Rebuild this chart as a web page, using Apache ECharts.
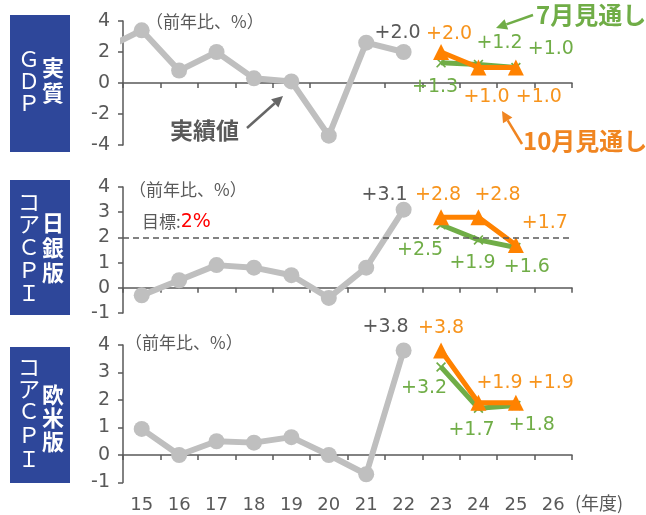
<!DOCTYPE html>
<html><head><meta charset="utf-8">
<script src="https://cdn.jsdelivr.net/npm/echarts@6/dist/echarts.min.js"></script>
<style>html,body{margin:0;padding:0;background:#fff}#chart{width:646px;height:515px}</style>
</head><body><div id="chart"></div>
<script>
// Fiscal-year categories on the shared horizontal axis
const fiscalYears = ['15','16','17','18','19','20','21','22','23','24','25','26'];

// Actual results (y/y %)
const gdpActualYears = [14, 15, 16, 17, 18, 19, 20, 21, 22];
const gdpActual = [2.2, 3.4, 0.8, 2.0, 0.3, 0.1, -3.4, 2.6, 2.0];
const actualYears = [15, 16, 17, 18, 19, 20, 21, 22];
const bojCoreActual = [-0.3, 0.3, 0.9, 0.8, 0.5, -0.4, 0.8, 3.1];
const westCoreActual = [0.95, 0.0, 0.5, 0.45, 0.65, 0.0, -0.7, 3.8];

// Outlooks (July / October)
const outlookYears = [23, 24, 25];
const gdpJuly = [1.3, 1.2, 1.0];
const gdpOctober = [2.0, 1.0, 1.0];
const bojCoreJuly = [2.5, 1.9, 1.6];
const bojCoreOctober = [2.8, 2.8, 1.7];
const westCoreJuly = [3.2, 1.7, 1.8];
const westCoreOctober = [3.8, 1.9, 1.9];

// Vertical axis ranges
const gdpAxis = { min: -4, max: 4, interval: 2 };
const cpiAxis = { min: -1, max: 4, interval: 1 };
const targetLevel = 2;

// ---- styling ----
const TXT = '#595959', GRAY = '#BFBFBF', GREEN = '#70AD47', ORANGE = '#FF8200', ORANGE_TXT = '#F7941D', BLUE = '#2E479A';
const NUM_FONT = '"DejaVu Sans", "Noto Sans CJK JP", sans-serif';
const JP_FONT = '"Noto Sans CJK JP", sans-serif';
const CROSS = 'path://M0,1.2L1.2,0L5,3.8L8.8,0L10,1.2L6.2,5L10,8.8L8.8,10L5,6.2L1.2,10L0,8.8L3.8,5Z';

const panels = [
  { top: 21, height: 124, axis: gdpAxis,
    actualX: gdpActualYears, actual: gdpActual, july: gdpJuly, october: gdpOctober,
    lastOffset: [-6, -19],
    julyOffsets: [[-6, 24], [21, -21], [35, -18]],
    octOffsets: [[8, -18], [8, 30], [23, 30]] },
  { top: 187, height: 126, axis: cpiAxis,
    actualX: actualYears, actual: bojCoreActual, july: bojCoreJuly, october: bojCoreOctober,
    lastOffset: [-19, -15], target: true,
    julyOffsets: [[-21, 25], [-6, 23], [11, 20]],
    octOffsets: [[-3, -22], [19, -22], [29, -22]] },
  { top: 345, height: 137.5, axis: cpiAxis,
    actualX: actualYears, actual: westCoreActual, july: westCoreJuly, october: westCoreOctober,
    lastOffset: [-18, -23],
    julyOffsets: [[-17, 21], [-7, 22], [16, 20]],
    octOffsets: [[0, -22], [21, -20], [35, -20]] }
];

const fmt = v => (v > 0 ? '+' : '') + v.toFixed(1);
const labelStyle = (color, offset) => ({
  show: true, position: 'inside', offset: offset, color: color,
  fontSize: 19, fontFamily: NUM_FONT, formatter: p => fmt(p.value[1])
});

const grid = [], xAxis = [], yAxis = [], series = [];
panels.forEach((p, i) => {
  grid.push({ left: 123, right: 74, top: p.top, height: p.height });
  // visible category axis (line + ticks on the zero line)
  xAxis.push({ type: 'category', gridIndex: i, data: fiscalYears, boundaryGap: true,
    axisLine: { onZero: true, lineStyle: { color: TXT, width: 1.5 } },
    axisTick: { show: true, length: 5, lineStyle: { color: TXT, width: 1.5 } },
    axisLabel: { show: false }, splitLine: { show: false } });
  // hidden numeric axis used for plotting by fiscal year
  xAxis.push({ type: 'value', gridIndex: i, min: 14.5, max: 26.5, show: false });
  yAxis.push({ type: 'value', gridIndex: i, min: p.axis.min, max: p.axis.max, interval: p.axis.interval,
    axisLine: { show: true, lineStyle: { color: TXT, width: 1.5 } },
    axisTick: { show: true, length: 5, lineStyle: { color: TXT, width: 1.5 } },
    axisLabel: { color: TXT, fontSize: 19, fontFamily: NUM_FONT, margin: 13 },
    splitLine: { show: false } });
  const xi = i * 2 + 1;
  const actualData = p.actual.map((v, k) => {
    const item = { value: [p.actualX[k], v] };
    if (k === p.actual.length - 1) item.label = labelStyle(TXT, p.lastOffset);
    return item;
  });
  const s = {
    type: 'line', xAxisIndex: xi, yAxisIndex: i, data: actualData, z: 2,
    symbol: 'circle', symbolSize: 16, itemStyle: { color: GRAY },
    lineStyle: { color: GRAY, width: 6 }, label: { show: false }, animation: false
  };
  if (p.target) {
    s.markLine = { silent: true, symbol: 'none', label: { show: false },
      lineStyle: { type: [6, 4], color: TXT, width: 1.5 }, data: [{ yAxis: targetLevel }] };
  }
  series.push(s);
  series.push({
    type: 'line', xAxisIndex: xi, yAxisIndex: i, z: 3, animation: false,
    data: p.july.map((v, k) => ({ value: [outlookYears[k], v], label: labelStyle(GREEN, p.julyOffsets[k]) })),
    symbol: CROSS, symbolSize: 10, itemStyle: { color: GREEN },
    lineStyle: { color: GREEN, width: 5 }
  });
  series.push({
    type: 'line', xAxisIndex: xi, yAxisIndex: i, z: 4, animation: false,
    data: p.october.map((v, k) => ({ value: [outlookYears[k], v], label: labelStyle(ORANGE_TXT, p.octOffsets[k]) })),
    symbol: 'triangle', symbolSize: 16, itemStyle: { color: ORANGE },
    lineStyle: { color: ORANGE, width: 5 }
  });
});
// fiscal-year labels along the bottom
xAxis.push({ type: 'category', gridIndex: 2, data: fiscalYears, boundaryGap: true, position: 'bottom',
  axisLine: { show: false, onZero: false }, axisTick: { show: false },
  axisLabel: { color: TXT, fontSize: 18, fontFamily: NUM_FONT, margin: 14 } });

// ---- annotations ----
const graphic = [];
function txt(text, x, y, opts) {
  graphic.push({ type: 'text', x: x, y: y, silent: true, z: 10,
    style: Object.assign({ text: text, fill: TXT, fontSize: 17, fontFamily: JP_FONT,
      align: 'left', verticalAlign: 'middle' }, opts || {}) });
}
function column(chars, x, ys, size, weight) {
  chars.forEach((c, k) => txt(c, x, ys[k], { fill: '#fff', fontSize: size, fontWeight: weight, align: 'center' }));
}
function arrow(x1, y1, x2, y2, color) {
  const dx = x2 - x1, dy = y2 - y1, len = Math.hypot(dx, dy), ux = dx / len, uy = dy / len;
  const hl = 11, hw = 5.5;
  const bx = x2 - ux * hl, by = y2 - uy * hl;
  graphic.push({ type: 'line', silent: true, z: 10, shape: { x1: x1, y1: y1, x2: bx, y2: by },
    style: { stroke: color, lineWidth: 2.5 } });
  graphic.push({ type: 'polygon', silent: true, z: 10,
    shape: { points: [[x2, y2], [bx - uy * hw, by + ux * hw], [bx + uy * hw, by - ux * hw]] },
    style: { fill: color } });
}

// side captions
[[15, 137], [180, 135], [347, 136]].forEach(b => graphic.push({ type: 'rect', silent: true, z: 5,
  shape: { x: 10, y: b[0], width: 60, height: b[1] }, style: { fill: BLUE } }));
column(['Ｇ', 'Ｄ', 'Ｐ'], 29, [59, 81, 103], 22, 'normal');
column(['実', '質'], 53, [68, 93], 22, 'bold');
column(['コ', 'ア', 'Ｃ', 'Ｐ', 'Ｉ'], 29, [202, 224, 247, 270, 293], 22, 'normal');
column(['日', '銀', '版'], 53, [223, 248, 273], 22, 'bold');
column(['コ', 'ア', 'Ｃ', 'Ｐ', 'Ｉ'], 29, [367, 389, 411, 435, 459], 22, 'normal');
column(['欧', '米', '版'], 53, [395, 418, 442], 22, 'bold');

// units
txt('（前年比、%）', 146, 22);
txt('（前年比、%）', 129, 190);
txt('（前年比、%）', 125, 343);
txt('(年度)', 575, 503, { fontSize: 18 });
graphic.push({ type: 'text', x: 142, y: 222, silent: true, z: 10, style: {
  text: '{a|目標:}{b|2%}', verticalAlign: 'middle',
  rich: { a: { fill: TXT, fontSize: 17, fontFamily: JP_FONT }, b: { fill: '#FF0000', fontSize: 19, fontFamily: NUM_FONT } } } });

// callouts
txt('実績値', 170, 130, { fontSize: 23, fontWeight: 'bold' });
arrow(247, 128, 283, 96, '#666666');
txt('7月見通し', 536, 15, { fontSize: 24, fontWeight: 'bold', fill: GREEN });
arrow(533, 15, 496, 28, GREEN);
txt('10月見通し', 523, 141, { fontSize: 24, fontWeight: 'bold', fill: '#F08521' });
arrow(522, 144, 502, 111, '#F08521');

const chart = echarts.init(document.getElementById('chart'), null, { renderer: 'canvas' });
chart.setOption({ animation: false, backgroundColor: '#fff', grid, xAxis, yAxis, series, graphic });
</script></body></html>
